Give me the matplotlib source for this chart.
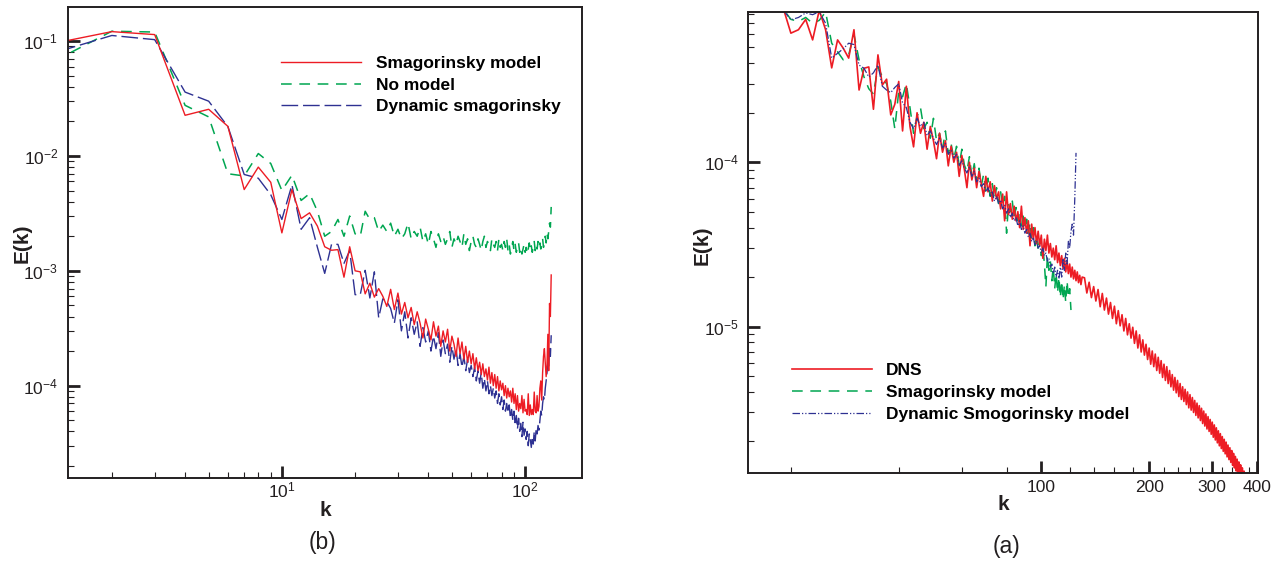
import numpy as np
import matplotlib
matplotlib.use("Agg")
import matplotlib.pyplot as plt
from matplotlib.ticker import FixedLocator, FixedFormatter, LogLocator, NullFormatter, LogFormatterSciNotation

plt.rcParams['font.family'] = 'Liberation Sans'
plt.rcParams['mathtext.fontset'] = 'custom'
plt.rcParams['mathtext.rm'] = 'Liberation Sans'
plt.rcParams['mathtext.it'] = 'Liberation Sans:italic'
plt.rcParams['mathtext.bf'] = 'Liberation Sans:bold'

RED = '#ed1c24'
GREEN = '#00a651'
BLUE = '#2e3192'
INK = '#231f20'

# ---- panel (b): LES spectra, E(k) in units of 1e-4, k = 1..128
b_smag = [900, 1210, 1140, 226, 255, 181, 51, 80, 59, 21.4,
          51, 28.5, 32, 24.5, 16.2, 15.1, 15.3, 8.8, 16.2, 10,
          9.8, 6.3, 7.8, 5.9, 7.0, 6.0, 4.9, 6.9,
          4.6, 6.4, 4.2, 5.3, 3.9, 4.8, 3.4, 4.4, 3.5, 2.6,
          3.8, 3.1, 2.5, 3.6, 2.7, 3.3, 2.2, 3.0, 2.4, 3.1,
          2.0, 2.7, 2.3, 1.8, 2.6, 1.9, 2.4, 1.7, 2.2, 1.6,
          2.0, 1.55, 1.9, 1.4, 1.75, 1.35, 1.6, 1.25, 1.55, 1.2,
          1.4, 1.12, 1.45, 1.05, 1.3, 1.0, 1.25, 0.95, 1.2, 0.9,
          1.1, 0.92, 1.05, 0.82, 1.0, 0.78, 0.95, 0.8, 0.9, 0.72,
          0.95, 0.7, 0.85, 0.62, 0.82, 0.6, 0.7, 0.63, 0.82, 0.58,
          0.76, 0.6, 0.62, 0.56, 0.85, 0.55, 0.68, 0.56, 0.62, 0.56,
          0.88, 0.6, 0.58, 0.82, 0.6, 0.66, 0.95, 1.1, 0.75, 1.3,
          1.8, 2.1, 1.6, 1.2, 1.5, 2.8, 1.35, 5.2, 4.0, 9.2]
b_nomodel = [570, 1220, 1200, 276, 219, 70, 67, 105, 86, 50,
             68, 41, 47, 33, 20, 22, 28, 20, 30, 21,
             20, 33, 28, 29, 22, 25, 22, 26,
             20, 23, 19, 21, 26, 19, 22, 20, 24, 18,
             21, 17, 22, 19, 16, 21, 18, 20, 17, 19,
             22, 16, 19, 17, 20, 18, 16, 21, 17, 19,
             15, 18, 20, 17, 16, 19, 17, 15, 18, 20,
             16, 18, 17, 15, 19, 17, 16, 18, 15, 19,
             16, 17, 15, 18, 16, 19, 15, 17, 14, 16,
             18, 15, 17, 14.5, 16, 17.5, 14.5, 16, 14, 15.5,
             17, 14.5, 16, 14, 15.5, 17.5, 15, 16.5, 14.5, 16,
             18, 15, 17, 15.5, 18, 16, 17.5, 15.5, 17, 19,
             16, 18, 20, 17.5, 21, 19, 22, 26, 24, 36]
b_dyn = [720, 1120, 1030, 360, 300, 180, 69, 64, 46, 28,
         56, 23, 29, 16, 9.5, 17, 17, 11.6, 15, 6.2,
         6.2, 10.1, 5.8, 9.8, 3.9, 5.7, 5.4, 4.7,
         3.5, 5.6, 3.0, 4.4, 2.6, 3.9, 2.8, 3.6, 2.2, 3.2,
         2.4, 3.0, 2.0, 2.7, 2.1, 2.9, 1.8, 2.5, 1.9, 2.3,
         1.6, 2.2, 1.7, 2.1, 1.5, 1.9, 1.45, 1.8, 1.35, 1.7,
         1.3, 1.5, 1.2, 1.45, 1.1, 1.35, 1.05, 1.3, 0.95, 1.15,
         0.9, 1.1, 0.85, 1.0, 0.82, 0.95, 0.78, 0.9, 0.7, 0.85,
         0.68, 0.8, 0.62, 0.75, 0.6, 0.7, 0.58, 0.68, 0.52, 0.62,
         0.5, 0.6, 0.45, 0.55, 0.42, 0.52, 0.4, 0.47, 0.36, 0.48,
         0.37, 0.42, 0.34, 0.4, 0.3, 0.38, 0.34, 0.29, 0.36, 0.31,
         0.4, 0.33, 0.42, 0.38, 0.45, 0.41, 0.5, 0.6, 0.55, 0.7,
         0.8, 0.75, 0.95, 1.1, 1.3, 1.6, 1.4, 2.2, 1.8, 2.75]

# ---- panel (a): DNS vs LES, E(k) in units of 1e-6
a_dns_low = [1150, 980, 1100, 880, 610, 640, 740, 555, 840, 640,      # k 16-25
             375, 555, 494, 430, 640, 275, 373, 380, 210, 450,
             295, 320, 194, 225, 310, 155, 290, 165, 124, 200,
             150, 175, 120, 165, 135, 105, 150, 115, 135, 95,
             125, 100, 115, 82, 110, 90, 70, 100, 78, 92,
             70, 88, 74, 62, 82, 66, 76, 58, 72, 60,
             66, 52, 64, 44, 66, 48, 56, 45, 54, 44,
             50, 40, 54, 39, 46, 37, 44, 31, 42, 34,
             40, 32, 38, 31, 36, 26, 34, 29, 36, 28,
             32, 26.5, 30, 25.5, 31, 24.5, 28, 23.5, 27, 22.5,
             26, 21.5, 25, 21, 24, 20, 23, 19.5, 22, 19,
             21.5, 18.5, 20.5, 18, 20]                               # k 126-130
a_dns_high = [19.8, 16.0, 18.6, 15.0, 17.5, 14.3, 16.8, 13.2, 15.9, 12.6,  # k 132-150, step 2
              14.9, 11.9, 14.0, 11.2, 13.3, 10.4, 12.5, 10.1, 11.8, 9.4,
              11.2, 8.9, 10.4, 8.5, 9.9, 7.9, 9.4, 7.4, 8.9, 7.0,
              8.3, 6.7, 7.8, 6.3, 7.4, 5.9, 7.1, 5.7, 6.8, 5.4,
              6.5, 5.2, 6.2, 4.9, 5.9, 4.7, 5.7, 4.5, 5.4, 4.3,
              5.1, 4.1, 4.9, 3.95, 4.7, 3.75, 4.5, 3.6, 4.3, 3.5,
              4.15, 3.35, 4.0, 3.2, 3.85, 3.1, 3.7, 3.0, 3.55, 2.88,
              3.42, 2.78, 3.3, 2.68, 3.18, 2.57, 3.06, 2.48, 2.94, 2.38,
              2.83, 2.3, 2.72, 2.21, 2.62, 2.12, 2.52, 2.04, 2.42, 1.96,
              2.32, 1.88, 2.23, 1.81, 2.14, 1.74, 2.06, 1.68, 1.98, 1.61,
              1.9, 1.55, 1.83, 1.49, 1.76, 1.43, 1.69, 1.38, 1.62, 1.32,
              1.56, 1.27, 1.5, 1.22, 1.44, 1.17, 1.38, 1.12, 1.32, 1.07,
              1.27, 1.03, 1.22, 0.99, 1.17, 0.95, 1.12]                   # k 372-384
a_smag = [1050, 900, 1000, 860, 740, 720, 760, 700, 730, 820,          # k 16-25
          530, 470, 420, 450, 600, 420, 330, 280, 260, 380,
          330, 300, 235, 160, 270, 250, 300, 215, 150, 190,
          215, 160, 175, 140, 185, 135, 150, 120, 155, 112,
          130, 105, 125, 95, 120, 96, 88, 108, 82, 98,
          76, 92, 72, 84, 66, 80, 62, 74, 60, 70,
          56, 66, 54, 62, 37, 56, 50, 58, 46, 53,
          44, 50, 41, 47, 39, 45, 37, 43, 34, 40,
          31, 36, 29, 34, 27, 31, 24, 17.5, 27, 22,
          25, 19, 23, 17, 21, 16, 20, 15, 19, 14.5,
          18, 14, 19, 15, 17, 12.6]                                    # k 116-121
a_dyn = [1000, 920, 960, 850, 735, 760, 810, 790, 824, 700,            # k 16-25
         430, 460, 490, 530, 520, 390, 373, 330, 350, 390,
         290, 275, 265, 285, 300, 230, 215, 175, 160, 185,
         165, 175, 145, 155, 140, 128, 140, 122, 130, 112,
         118, 106, 112, 96, 102, 92, 86, 94, 82, 88,
         76, 80, 71, 74, 66, 70, 62, 66, 58, 62,
         56, 59, 52, 55, 49, 52, 46, 49, 44, 46,
         41, 44, 39, 41, 37, 39, 35, 37, 33, 35,
         31, 33, 30, 31, 28, 30, 27, 28, 25, 26,
         23, 24, 21, 23, 20, 22, 19.5, 23, 20, 26,
         22, 28, 24, 33, 30, 38, 42, 36, 60, 114]                      # k 116-125

k_b = np.arange(1, len(b_smag) + 1)
k_a_dns = np.concatenate([np.arange(16, 16 + len(a_dns_low)),
                          np.arange(132, 132 + 2 * len(a_dns_high), 2)])
e_a_dns = np.array(a_dns_low + a_dns_high) * 1e-6
k_a_les = np.arange(16, 16 + len(a_smag))
k_a_dyn = np.arange(16, 16 + len(a_dyn))


def style_axes(ax):
    for s in ax.spines.values():
        s.set_linewidth(1.4)
        s.set_color(INK)
    ax.tick_params(which='both', direction='in', top=False, right=False,
                   colors=INK, labelsize=12.5)
    ax.tick_params(which='major', length=8.5, width=2.0)
    ax.tick_params(which='minor', length=4.5, width=0.8)


fig = plt.figure(figsize=(12.75, 5.62), dpi=100)
ax_b = fig.add_axes([0.0533, 0.150, 0.4035, 0.837])
ax_a = fig.add_axes([0.5868, 0.1589, 0.3997, 0.8192])

# panel (b)
l_nm, = ax_b.plot(k_b, np.array(b_nomodel) * 1e-4, color=GREEN, lw=1.1,
                  linestyle=(0, (7, 5)))
l_dy, = ax_b.plot(k_b, np.array(b_dyn) * 1e-4, color=BLUE, lw=1.0,
                  linestyle=(0, (12, 3.5)))
l_sm, = ax_b.plot(k_b, np.array(b_smag) * 1e-4, color=RED, lw=1.0)
ax_b.set_xscale('log')
ax_b.set_yscale('log')
ax_b.set_xlim(1.32, 172)
ax_b.set_ylim(1.58e-5, 0.197)
ax_b.xaxis.set_major_locator(LogLocator(base=10))
ax_b.xaxis.set_minor_locator(LogLocator(base=10, subs=np.arange(2, 10)))
ax_b.xaxis.set_major_formatter(LogFormatterSciNotation())
ax_b.xaxis.set_minor_formatter(NullFormatter())
ax_b.yaxis.set_major_locator(LogLocator(base=10))
ax_b.yaxis.set_minor_locator(LogLocator(base=10, subs=np.arange(2, 10)))
ax_b.yaxis.set_minor_formatter(NullFormatter())
style_axes(ax_b)
ax_b.tick_params(axis='x', pad=2)
ax_b.tick_params(axis='y', pad=7)
ax_b.legend([l_sm, l_nm, l_dy], ['Smagorinsky model', 'No model', 'Dynamic smagorinsky'],
            loc='upper left', bbox_to_anchor=(0.414, 0.897), frameon=False,
            prop=dict(weight='bold', size=12.5), handlelength=4.6,
            handletextpad=0.85, labelspacing=0.38, borderpad=0, borderaxespad=0)

# panel (a)
l_s, = ax_a.plot(k_a_les, np.array(a_smag) * 1e-6, color=GREEN, lw=1.1,
                 linestyle=(0, (7, 5)))
l_d, = ax_a.plot(k_a_dns, e_a_dns, color=RED, lw=1.2)
l_y, = ax_a.plot(k_a_dyn, np.array(a_dyn) * 1e-6, color=BLUE, lw=0.9,
                 linestyle=(0, (6, 1.6, 1, 1.6, 1, 1.6)))
ax_a.set_xscale('log')
ax_a.set_yscale('log')
ax_a.set_xlim(15.2, 402)
ax_a.set_ylim(1.29e-6, 8.17e-4)
ax_a.xaxis.set_major_locator(FixedLocator([100, 200, 300, 400]))
ax_a.xaxis.set_major_formatter(FixedFormatter(['100', '200', '300', '400']))
ax_a.xaxis.set_minor_locator(FixedLocator([m for m in range(20, 400, 20) if m % 100]))
ax_a.xaxis.set_minor_formatter(NullFormatter())
ax_a.yaxis.set_major_locator(LogLocator(base=10))
ax_a.yaxis.set_minor_locator(LogLocator(base=10, subs=np.arange(2, 10)))
ax_a.yaxis.set_minor_formatter(NullFormatter())
style_axes(ax_a)
ax_a.tick_params(axis='x', pad=5)
ax_a.tick_params(axis='y', pad=6.5)
ax_a.legend([l_d, l_s, l_y], ['DNS', 'Smagorinsky model', 'Dynamic Smogorinsky model'],
            loc='upper left', bbox_to_anchor=(0.086, 0.238), frameon=False,
            prop=dict(weight='bold', size=12.5), handlelength=4.6,
            handletextpad=0.8, labelspacing=0.38, borderpad=0, borderaxespad=0)

# axis titles and captions
lab = dict(fontsize=15, fontweight='bold', color=INK, ha='center', va='center')
fig.text(22 / 1275, 1 - 243 / 562, 'E(k)', rotation=90, **lab)
fig.text(702 / 1275, 1 - 245 / 562, 'E(k)', rotation=90, **lab)
fig.text(325.5 / 1275, 1 - 510 / 562, 'k', **lab)
fig.text(1003 / 1275, 1 - 505 / 562, 'k', **lab)
cap = dict(fontsize=16.5, color=INK, ha='center', va='center')
fig.text(322.6 / 1275, 1 - 543 / 562, '(b)', **cap)
fig.text(1006 / 1275, 1 - 547 / 562, '(a)', **cap)

fig.savefig('out.png', dpi=100)
